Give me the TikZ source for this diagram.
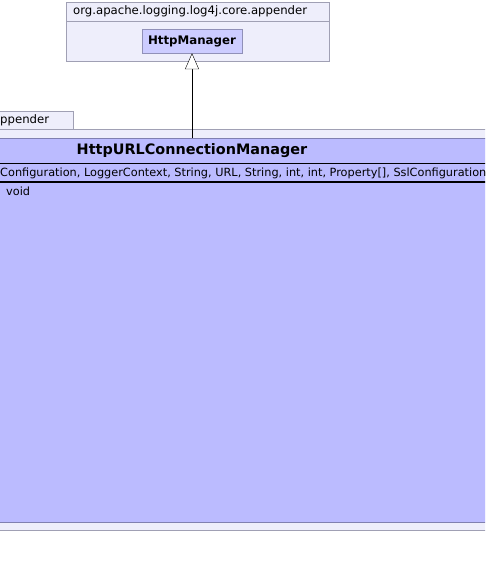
\documentclass[tikz,border=0pt]{standalone}
\usepackage{fontspec}
\setmainfont{DejaVu Sans}
\usetikzlibrary{arrows.meta}

\definecolor{pkgfill}{HTML}{EEEEFB}
\definecolor{pkgline}{HTML}{A0A0B4}
\definecolor{clsfill}{HTML}{BBBBFF}
\definecolor{clsline}{HTML}{8080B0}
\definecolor{supfill}{HTML}{CCCCFF}
\definecolor{supline}{HTML}{9090B8}

\tikzset{
  pkgbox/.style = {draw = pkgline, fill = pkgfill, inner sep = 0pt},
  pkgname/.style = {font = \fontsize{11.7}{13}\selectfont, inner sep = 0pt},
  supbox/.style = {draw = supline, fill = supfill, minimum width = 100pt,
    minimum height = 24pt, font = \fontsize{11.8}{13}\selectfont\bfseries},
  clsbox/.style = {draw = clsline, fill = clsfill, inner sep = 0pt},
  clsname/.style = {font = \fontsize{14.4}{17}\selectfont\bfseries, inner sep = 0pt},
  member/.style = {font = \fontsize{11.3}{13}\selectfont, inner sep = 0pt},
  extends/.style = {-{Triangle[length = 16pt, width = 14pt, fill = white]}}
}

\begin{document}
\begin{tikzpicture}[x = 1pt, y = -1pt]
        \useasboundingbox (0, 0) rectangle (485, 568);
        \clip (0, 0) rectangle (485, 568);

        % ------------------------------------------------------------------------
        % Package of the super class
        \node[pkgbox, anchor = north west, minimum width = 263pt, minimum height = 59pt]
          at (66, 2) (toppkg) {};
        \draw[pkgline] (66, 21) -- (329, 21);
        \node[pkgname, anchor = west] at (73, 11.5) (toppkgname) {org.apache.logging.log4j.core.appender};

        \node[supbox] at (192, 41) (httpmgr) {HttpManager};

        % ------------------------------------------------------------------------
        % Package of the class
        \node[pkgbox, anchor = south west, minimum width = 80pt, minimum height = 18pt]
          at (-7, 129) (tab) {};
        \node[pkgname, anchor = west] at (0, 120) (tabname) {ppender};
        \node[pkgbox, anchor = north west, minimum width = 500pt, minimum height = 401pt]
          at (-7, 129) (botpkg) {};

        \node[clsbox, anchor = north west, minimum width = 500pt, minimum height = 384pt]
          at (-7, 138) (cls) {};
        \node[clsname] at (192, 151) (clsname) {HttpURLConnectionManager};
        \draw[line width = 1.6pt] (-7, 163.5) -- (492, 163.5);
        \node[member, anchor = west] at (0, 173) (ctor) {Configuration, LoggerContext, String, URL, String, int, int, Property[], SslConfiguration};
        \draw[line width = 1.2pt] (-7, 182) -- (492, 182);
        \node[member, anchor = west] at (6, 191) (send) {void};

        \draw[extends]
          (httpmgr.south |- cls.north) -- (httpmgr.south)
        ;
      \end{tikzpicture}
\end{document}
